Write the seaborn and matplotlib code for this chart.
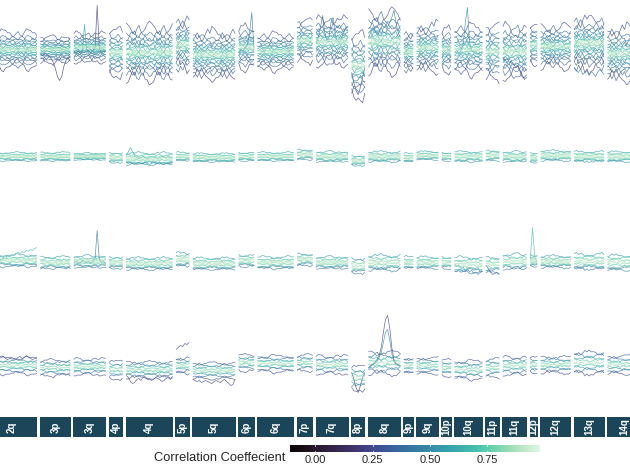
import numpy as np
import pandas as pd
import matplotlib
matplotlib.use("Agg")
import matplotlib.pyplot as plt
import seaborn as sns

sns.set_theme(style="white")
plt.rcParams['font.family'] = ['Liberation Sans', 'DejaVu Sans']

# chromosome arms shown and number of bins per arm
arms = ['2q', '3p', '3q', '4p', '4q', '5p', '5q', '6p', '6q', '7p', '7q', '8p',
        '8q', '9p', '9q', '10p', '10q', '11p', '11q', '12p', '12q', '13q', '14q']
arm_bins = [25, 15, 16, 7, 23, 7, 21, 8, 18, 8, 16, 7, 16, 5, 11, 5, 14, 7, 12, 4, 15, 15, 17]

# per-row arm level (centre of the bundle) and spread of the bundle
row1_level = [3, 3, 5, 0, 0, 8, -2, 5, 1, 12, 11, -13, 11, 1, 5, 3, 3, 1, 1, 8, 6, 9, -1]
row1_spread = [6, 4.5, 5, 8, 9, 9, 8, 7, 6, 7, 8, 11, 10, 7, 8, 7, 8, 9, 9, 7, 7, 9, 9]
row2_level = [1, 1, 1, 0, -1, 1, 0, 1, 1, 3, 1, -3, 1, 0, 2, 1, 1, 2, 1, 0, 2, 1, 1]
row2_spread = [2.5, 2.5, 2, 3, 3.5, 2.5, 2.5, 2.5, 2.5, 3, 3, 3, 3, 2.5, 2.5, 2.5, 3, 3, 3, 3, 3, 3, 3]
row3_level = [2, 0, 1, 0, -1, 3, -1, 2, 0, 3, 0, -3, 0, 0, 0, 0, -2, -2, 1, 2, 1, 1, 0]
row3_spread = [3.5, 3.5, 3.5, 3.5, 3.5, 4, 3.5, 3.5, 3.5, 3.5, 3.5, 4.5, 4.5, 3.5, 3.5, 3.5, 4.5, 4.5, 4.5, 3.5, 3.5, 4.5, 4.5]
row4_level = [2, 0, 1, -2, -2, 2, -3, 5, 4, 5, 3, -10, 5, 2, 2, 0, -2, 0, 2, 3, 3, 5, 3]
row4_spread = [4, 4, 4, 4.5, 4, 4, 4, 4, 4, 4, 4.5, 6, 5.5, 4, 4, 4, 4.5, 4.5, 4.5, 4, 4, 5.5, 4.5]

# samples per row: position inside the bundle and correlation coefficient
row1_offsets = [-2.6, -2.2, -1.9, -1.6, -1.3, -1.05, -0.8, -0.6, -0.4, -0.25, -0.1,
                0.0, 0.1, 0.25, 0.4, 0.6, 0.8, 1.05, 1.3, 1.6, 2.0, 2.5]
row1_corr = [0.22, 0.3, 0.36, 0.42, 0.46, 0.5, 0.55, 0.62, 0.7, 0.8, 0.88,
             0.93, 0.88, 0.8, 0.7, 0.6, 0.54, 0.5, 0.45, 0.4, 0.34, 0.27]
row2_offsets = [-1.6, -1.0, -0.6, -0.3, 0.0, 0.3, 0.6, 1.0, 1.5, -1.3]
row2_corr = [0.55, 0.7, 0.8, 0.85, 0.9, 0.88, 0.8, 0.72, 0.6, 0.5]
row3_offsets = [-1.6, -1.0, -0.6, -0.3, 0.0, 0.3, 0.6, 1.0, 1.5, -1.3]
row3_corr = [0.45, 0.65, 0.78, 0.85, 0.9, 0.86, 0.8, 0.7, 0.55, 0.4]
row4_offsets = [-2.0, -1.4, -0.9, -0.5, -0.2, 0.1, 0.4, 0.8, 1.2, 1.8]
row4_corr = [0.25, 0.4, 0.55, 0.7, 0.85, 0.9, 0.75, 0.6, 0.45, 0.3]

# shared slow profile of each arm
drifts = [
    [0.0, 0.3, 0.5, 0.6, 0.4, 0.1, -0.2, -0.5, -0.6, -0.4, -0.2, -0.1],
    [0.5, 0.4, 0.1, -0.2, -0.4, -0.3, -0.5, -0.2, 0.1, 0.3, 0.6, 0.4],
    [-0.3, -0.5, -0.4, -0.1, 0.2, 0.5, 0.4, 0.6, 0.3, 0.0, -0.2, -0.1],
    [0.2, -0.1, -0.3, -0.2, -0.5, -0.4, 0.0, 0.3, 0.5, 0.4, 0.6, 0.3],
    [-0.6, -0.3, 0.0, 0.2, 0.1, 0.4, 0.6, 0.3, 0.1, -0.2, -0.4, -0.5],
    [0.4, 0.6, 0.3, 0.4, 0.0, -0.3, -0.2, -0.5, -0.4, -0.1, 0.1, 0.2],
    [-0.1, 0.1, 0.4, 0.2, 0.5, 0.3, -0.1, -0.3, -0.2, -0.6, -0.4, -0.3],
    [0.1, -0.3, -0.5, -0.6, -0.3, 0.0, 0.2, 0.1, 0.4, 0.5, 0.3, 0.4],
]
# per-sample bin-to-bin noise
jitters = [
    [0.2, -0.4, 0.5, 0.1, -0.6, 0.3, 0.8, -0.2, -0.5, 0.4, 0.0, -0.3],
    [-0.5, 0.1, 0.6, -0.3, 0.2, -0.7, 0.4, 0.5, -0.1, -0.6, 0.3, 0.7],
    [0.6, 0.3, -0.2, -0.8, 0.1, 0.5, -0.4, 0.2, 0.7, -0.3, -0.6, 0.1],
    [-0.1, 0.7, -0.5, 0.3, 0.6, -0.2, -0.7, 0.4, 0.1, 0.5, -0.4, -0.3],
    [0.4, -0.6, -0.1, 0.7, -0.3, 0.2, 0.5, -0.5, 0.3, -0.1, 0.6, -0.7],
    [-0.7, 0.2, 0.4, -0.1, 0.5, -0.4, 0.1, 0.6, -0.6, 0.3, -0.2, 0.5],
    [0.3, 0.5, -0.6, 0.2, -0.1, 0.7, -0.3, -0.4, 0.6, 0.0, 0.4, -0.5],
    [-0.3, -0.2, 0.7, -0.5, 0.4, 0.1, -0.6, 0.3, -0.2, 0.6, -0.4, 0.2],
]
drift_amp = [1.0, 0.6, 0.6, 0.6]
jitter_amp = [0.3, 0.3, 0.3, 0.3]

# single outlying samples
r1_3q_spike = [1, 0, 2, -1, 1, 0, 3, 1, 0, 2, 5, 47, 4, 0, 1, 2]
r1_3q_spike2 = [0, -2, 1, 0, 2, 28, 3, -1, 0, 1, -2, 0, 1, 0, 2, 1]
r1_3p_dip = [-2, -3, -1, -2, -4, -6, -10, -16, -24, -28, -24, -14, -8, -5, -4]
r1_6p_spike = [0, 3, 1, 5, 8, 20, 40, 4]
r1_10q_spike = [0, 2, -1, 3, 8, 30, 45, 10, 2, 0, 1, -2, 0, 1]
r1_8p_low = [-20, -30, -38, -42, -35, -25, -15]
r1_11q_down = [-5, -8, -6, -10, -9, -12, -15, -14, -18, -22, -27, -25]
r1_13q_low = [-15, -18, -20, -16, -22, -20, -18, -23, -19, -21, -24, -20, -17, -19, -22]
r1_7q_high = [10, 15, 25, 37, 20, 12, 15, 30, 35, 18, 12, 10, 15, 20, 25, 22]
r1_8q_high = [15, 20, 25, 22, 18, 20, 25, 30, 28, 25, 30, 35, 42, 30, 20, 15]
r2_4q_bump = [2, 6, 10, 6, 2, 0, -1, 0, 1, 0, -1, 0, 1, 0, 0, -1, 0, 1, 0, 0, 1, 0, 0]
r2_4q_low = [-5, -6, -5, -6, -7, -6, -5, -6, -6, -5, -6, -7, -6, -5, -6, -6, -5, -6, -7, -6, -5, -6, -5]
r3_3q_spike = [0, 1, -1, 0, 2, 1, 0, 1, -1, 2, 4, 32, 3, 0, 1, -1]
r3_12p_spike = [2, 35, 5, 0]
r3_2q_rise = [0, 0, 1, 0, 1, 2, 1, 3, 5, 4, 7, 6, 8, 7, 9, 10, 9, 11, 10, 12, 11, 13, 12, 14, 15]
r3_10q_low = [-2, -4, -3, -6, -5, -8, -7, -9, -8, -11, -10, -12, -10, -9]
r3_11p_low = [-3, -6, -9, -12, -11, -10, -12]
r4_8q_bump = [0, 2, 3, 5, 8, 12, 20, 35, 48, 52, 40, 20, 8, 4, 3, 2]
r4_8q_bump2 = [0, 1, 3, 4, 6, 10, 15, 25, 35, 38, 28, 14, 6, 3, 2, 1]
r4_8p_dip = [-5, -12, -20, -25, -18, -10, -5]
r4_5p_high = [18, 20, 22, 21, 24, 23, 25]
r4_4q_low = [-8, -10, -14, -16, -15, -12, -11, -13, -10, -9, -12, -11, -13, -12, -10, -11, -12, -14, -13, -11, -10, -12, -9]
r4_5q_low = [-12, -13, -14, -13, -15, -14, -13, -14, -15, -16, -14, -13, -14, -15, -13, -12, -14, -16, -18, -17, -12]
r4_2q_top = [8, 9, 8, 10, 9, 8, 9, 10, 11, 9, 8, 9, 10, 9, 8, 10, 11, 9, 10, 12, 10, 9, 8, 9, 10]

# (row, arm, corr, values)
extras = [
    (0, '3q', 0.2, r1_3q_spike), (0, '3q', 0.6, r1_3q_spike2), (0, '3p', 0.2, r1_3p_dip),
    (0, '6p', 0.45, r1_6p_spike), (0, '10q', 0.5, r1_10q_spike), (0, '8p', 0.25, r1_8p_low),
    (0, '11q', 0.2, r1_11q_down), (0, '13q', 0.45, r1_13q_low), (0, '7q', 0.4, r1_7q_high),
    (0, '8q', 0.45, r1_8q_high), (1, '4q', 0.6, r2_4q_bump), (1, '4q', 0.55, r2_4q_low),
    (2, '3q', 0.45, r3_3q_spike), (2, '12p', 0.7, r3_12p_spike), (2, '2q', 0.7, r3_2q_rise),
    (2, '10q', 0.45, r3_10q_low), (2, '11p', 0.3, r3_11p_low), (3, '8q', 0.25, r4_8q_bump),
    (3, '8q', 0.5, r4_8q_bump2), (3, '8p', 0.2, r4_8p_dip), (3, '5p', 0.25, r4_5p_high),
    (3, '4q', 0.25, r4_4q_low), (3, '5q', 0.25, r4_5q_low), (3, '2q', 0.25, r4_2q_top),
]

cb_ticks = [0.0, 0.25, 0.5, 0.75]
vmin, vmax = -0.11, 0.98

levels = [row1_level, row2_level, row3_level, row4_level]
spreads = [row1_spread, row2_spread, row3_spread, row4_spread]
offsets = [row1_offsets, row2_offsets, row3_offsets, row4_offsets]
corrs = [row1_corr, row2_corr, row3_corr, row4_corr]

records = []
for r in range(4):
    for ai, arm in enumerate(arms):
        d = drifts[ai % len(drifts)]
        for k, (off, c) in enumerate(zip(offsets[r], corrs[r])):
            jt = jitters[(k + ai) % len(jitters)]
            sign = 1 if k % 2 == 0 else -1
            for j in range(arm_bins[ai]):
                shape = drift_amp[r] * d[j % len(d)] * (0.3 + 0.5 * abs(off)) * sign
                noise = jitter_amp[r] * jt[(j + 3 * ai) % len(jt)]
                y = levels[r][ai] + spreads[r][ai] * (off + shape + noise)
                records.append((r, arm, f"s{k}", j, y, c))
for n, (r, arm, c, vals) in enumerate(extras):
    for j, v in enumerate(vals):
        records.append((r, arm, f"x{n}", j, v, c))
df = pd.DataFrame(records, columns=['row', 'arm', 'sample', 'bin', 'value', 'corr'])

W, H = 630, 473
fig = plt.figure(figsize=(W / 100, H / 100), dpi=100)
gs = fig.add_gridspec(4, len(arms), width_ratios=arm_bins, left=-14 / W, right=642 / W,
                      top=1, bottom=1 - 420 / H, wspace=0.096, hspace=0)
gs_strip = fig.add_gridspec(1, len(arms), width_ratios=arm_bins, left=-14 / W, right=642 / W,
                            top=1 - 417 / H, bottom=1 - 437 / H, wspace=0.096)

for r in range(4):
    for ai, arm in enumerate(arms):
        ax = fig.add_subplot(gs[r, ai])
        sub = df[(df['row'] == r) & (df['arm'] == arm)]
        sns.lineplot(data=sub, x='bin', y='value', hue='corr', units='sample', estimator=None,
                     palette='mako', hue_norm=(vmin, vmax), legend=False, lw=0.5, alpha=0.8, ax=ax)
        ax.set_xlim(-0.3, arm_bins[ai] - 0.7)
        ax.set_ylim(-52.5, 52.5)
        ax.axis('off')
        ax.patch.set_alpha(0)

# arm strips along the bottom
for ai, arm in enumerate(arms):
    ax = fig.add_subplot(gs_strip[0, ai])
    ax.set_facecolor('#1b4659')
    ax.set_xticks([])
    ax.set_yticks([])
    for s in ax.spines.values():
        s.set_visible(False)
    ax.text(0.5, 0.5, arm, rotation=90, color='white', fontsize=7, fontweight='bold',
            ha='center', va='center', transform=ax.transAxes)

# colour bar legend
cax = fig.add_axes([290 / W, 1 - 452 / H, 250 / W, 7 / H])
sm = plt.cm.ScalarMappable(cmap=sns.color_palette('mako', as_cmap=True), norm=plt.Normalize(vmin, vmax))
cb = fig.colorbar(sm, cax=cax, orientation='horizontal', ticks=cb_ticks)
cb.outline.set_visible(False)
cb.ax.tick_params(length=0, labelsize=8, pad=2.5)
cb.ax.set_xticklabels([f"{t:.2f}" for t in cb_ticks])
for t in cb_ticks:
    cax.axvline(t, ymax=0.2, color='white', lw=0.6)
    cax.axvline(t, ymin=0.8, color='white', lw=0.6)
fig.text(285 / W, 1 - 458 / H, 'Correlation Coeffecient', ha='right', va='center', fontsize=9.3)

fig.savefig('out.png', dpi=100)
